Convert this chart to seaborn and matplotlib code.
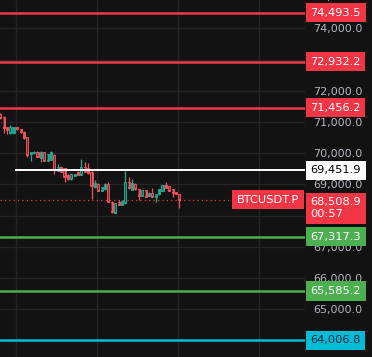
import numpy as np
import pandas as pd
import matplotlib
matplotlib.use("Agg")
import matplotlib.pyplot as plt
import matplotlib.transforms as mtransforms
import seaborn as sns

# ---- data ----
opens  = [71250, 71169, 70828, 70635, 70635, 70828, 70763, 70689, 70507, 69963,
          69995, 70048, 69835, 70027, 69749, 69781, 69941, 69440, 69568, 69515,
          69301, 69162, 69269, 69408, 69301, 69568, 69515, 69408, 68906, 69012,
          68799, 68842, 69012, 68447, 68094, 68425, 68340, 68393, 69087, 68820,
          69012, 68842, 68628, 68820, 68628, 68735, 68607, 68682, 68799, 68980,
          68948, 68842, 68760, 68692]
highs  = [71290, 71190, 70840, 70902, 70850, 70845, 70780, 70700, 70520, 70040,
          70070, 70070, 70060, 70045, 69980, 70080, 69960, 69653, 69590, 69530,
          69320, 69345, 69345, 69420, 69813, 69728, 69674, 69420, 69141, 69030,
          68920, 69030, 69087, 68460, 68410, 68500, 68490, 69440, 69247, 69173,
          69030, 68855, 68830, 68835, 68750, 68874, 68695, 68855, 68990, 69087,
          68960, 68855, 68770, 68705]
lows   = [71100, 70635, 70603, 70620, 70620, 70750, 70650, 70460, 69867, 69760,
          69970, 69870, 69706, 69740, 69740, 69770, 69333, 69420, 69390, 69087,
          69150, 69150, 69255, 69290, 69290, 69395, 69340, 68521, 68890, 68790,
          68790, 68830, 68440, 68072, 68080, 68330, 68330, 68380, 68860, 68810,
          68830, 68500, 68620, 68600, 68620, 68600, 68447, 68670, 68790, 68880,
          68790, 68586, 68680, 68233]
closes = [71120, 70795, 70742, 70828, 70828, 70763, 70667, 70475, 69941, 70027,
          70048, 69888, 70048, 69749, 69963, 70048, 69461, 69568, 69408, 69226,
          69162, 69333, 69333, 69301, 69568, 69408, 69354, 68948, 69034, 68799,
          68906, 69012, 68447, 68126, 68393, 68340, 68479, 69087, 68874, 69034,
          68842, 68628, 68820, 68607, 68735, 68607, 68682, 68842, 68980, 68895,
          68799, 68735, 68692, 68508.9]

level_values = [74493.5, 72932.2, 71456.2, 69451.9, 67317.3, 65585.2, 64006.8]
level_colors = ["#f23645", "#f23645", "#f23645", "#ffffff", "#4caf50", "#4caf50", "#00bcd4"]
level_text   = ["#ffffff", "#ffffff", "#ffffff", "#000000", "#ffffff", "#ffffff", "#0b2540"]
last_price = 68508.9
symbol = "BTCUSDT.P"
countdown = "00:57"
y_ticks = [64000, 65000, 66000, 67000, 68000, 69000, 70000, 71000, 72000, 73000, 74000]

df = pd.DataFrame({"open": opens, "high": highs, "low": lows, "close": closes})
df["idx"] = np.arange(len(df))
df["up"] = df["close"] >= df["open"]

# ---- style ----
sns.set_theme(style="dark")
BG = "#121212"
plt.rcParams["font.family"] = ["DejaVu Sans"]

fig = plt.figure(figsize=(3.72, 3.57), dpi=100, facecolor=BG)
ax = fig.add_axes([0, 0, 305 / 372, 1])
ax.set_facecolor(BG)

UP = "#22ab94"
DN = "#f7525f"

# wicks
for up, col in [(True, UP), (False, DN)]:
    sub = df[df["up"] == up]
    ax.vlines(sub["idx"], sub["low"], sub["high"], color=col, lw=0.9, zorder=3)
    body_lo = np.minimum(sub["open"], sub["close"])
    body_h = np.maximum(np.abs(sub["close"] - sub["open"]), 12)
    ax.bar(sub["idx"], body_h, bottom=body_lo, width=0.62,
           facecolor=col, alpha=1.0, edgecolor=col, linewidth=0.6, zorder=4)
    ax.bar(sub["idx"], np.maximum(body_h - 60, 0), bottom=body_lo + 30, width=0.2,
           facecolor=BG, edgecolor="none", alpha=0.55, zorder=5)

# level lines
xmin_l, xmax_l = -0.1, 90.2
for v, c in zip(level_values, level_colors):
    if c == "#ffffff":
        ax.hlines(v, 4.4, xmax_l, color=c, lw=1.4, zorder=6)
    else:
        ax.axhline(v, color=c, lw=1.8, zorder=6)

# last price dotted line
ax.hlines(last_price, xmin_l, 70.5, color="#f23645", lw=0.9, ls=(0, (1, 2.5)), zorder=2)

ax.set_xlim(xmin_l, xmax_l)
ax.set_ylim(63472, 74906)

# grid
ax.set_xticks([4.64, 28.64, 52.64, 76.64])
ax.set_yticks(y_ticks)
ax.grid(True, color="#242424", lw=1)
ax.tick_params(axis="x", length=0, labelbottom=False)
ax.yaxis.tick_right()
ax.tick_params(axis="y", length=0, pad=6, labelsize=8, labelcolor="#b2b5be")
ax.set_yticklabels([f"{t:,.1f}" for t in y_ticks])
for s in ax.spines.values():
    s.set_visible(False)

trans = mtransforms.blended_transform_factory(ax.transAxes, ax.transData)
# partial top tick
ax.text(1.0, 75000, f"{75000:,.1f}", transform=trans, fontsize=8, color="#b2b5be",
        ha="left", va="center", clip_on=False, zorder=2).set_x(1.0 + 8.3 / 305)

# level labels
for v, c, tc in zip(level_values, level_colors, level_text):
    ax.text(1.0 + 5.5 / 305, v, f"{v:,.1f}", transform=trans, fontsize=8.2, color=tc,
            ha="left", va="center", clip_on=False, zorder=10,
            bbox=dict(boxstyle="square,pad=0.4", fc=c, ec="none"))

# symbol + last price labels
ax.text(1.0 - 6 / 305, last_price, symbol, transform=trans, fontsize=8.2, color="white",
        ha="right", va="center", clip_on=False, zorder=10,
        bbox=dict(boxstyle="square,pad=0.4", fc="#f23645", ec="none"))
ax.text(1.0 + 5.5 / 305, last_price - 280, f"{last_price:,.1f}\n{countdown}", transform=trans,
        fontsize=8.2, color="white", ha="left", va="center", clip_on=False, zorder=10,
        linespacing=1.25,
        bbox=dict(boxstyle="square,pad=0.4", fc="#f23645", ec="none"))

fig.savefig("out.png", dpi=100, facecolor=BG)
